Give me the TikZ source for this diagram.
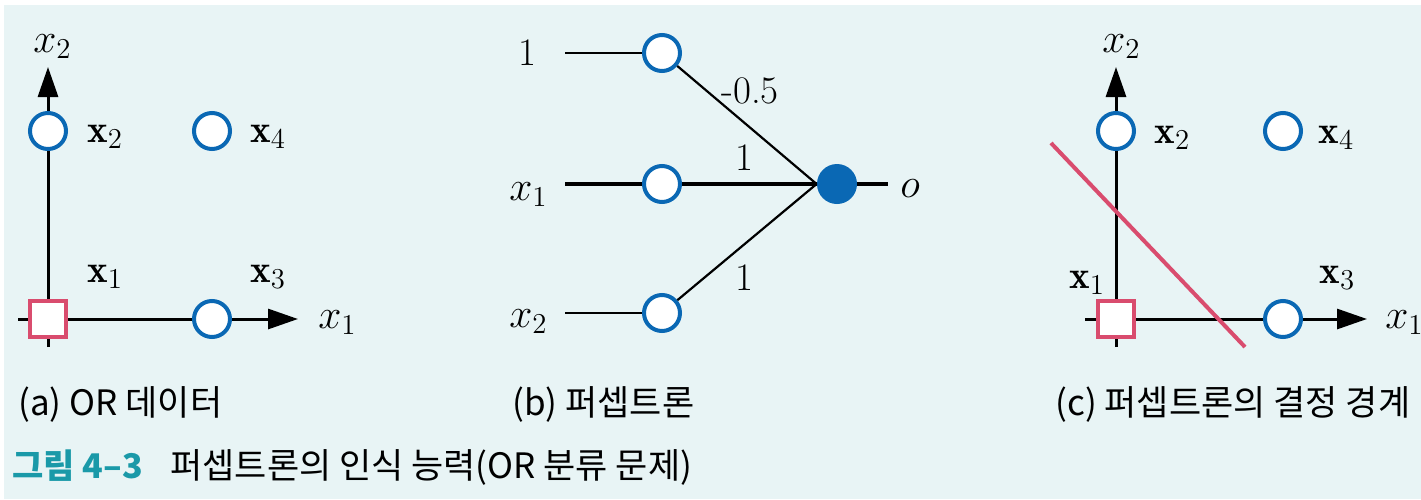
\documentclass[tikz,border=0pt]{standalone}
\usepackage{fontspec}
\newfontfamily\krfont{Noto Sans CJK KR}
\usetikzlibrary{arrows.meta}
\definecolor{bgcyan}{HTML}{E8F4F5}
\definecolor{ptblue}{HTML}{0A68B4}
\definecolor{ptpink}{HTML}{D94C6E}
\definecolor{ttlteal}{HTML}{1A99A8}
\tikzset{
  datapt/.style={circle,draw=ptblue,line width=2pt,fill=white,minimum size=18pt,inner sep=0pt},
  zeropt/.style={rectangle,draw=ptpink,line width=2pt,fill=white,minimum size=18pt,inner sep=0pt},
  outpt/.style={circle,fill=ptblue,minimum size=20pt,inner sep=0pt},
  axisline/.style={line width=1.5pt,-{Triangle[length=15pt,width=10pt]}},
  lbl/.style={font=\fontsize{19.5}{22}\selectfont,inner sep=0pt,anchor=base west},
  captxt/.style={font=\krfont\fontsize{17.5}{20}\selectfont,inner sep=0pt,anchor=base west},
}
\begin{document}
\begin{tikzpicture}[x=0.5pt,y=-0.5pt]
  \useasboundingbox (0,0) rectangle (1421,499);
  \fill[bgcyan] (4,5) rectangle (1421,499);

  % (a) OR data
  \coordinate (aYlo) at (48,347);
  \coordinate (aYhi) at (48,67);
  \coordinate (aXlo) at (18,319);
  \coordinate (aXhi) at (298,319);
  \draw[line width=1.5pt] (aYlo) -- (48,319);
  \draw[axisline] (48,319) -- (aYhi);
  \draw[axisline] (aXlo) -- (aXhi);
  \node[zeropt] (aP1) at (48,319) {};
  \node[datapt] (aP2) at (48,131) {};
  \node[datapt] (aP3) at (212,319) {};
  \node[datapt] (aP4) at (212,131) {};
  \node[lbl] (aL1) at (87,282) {$\mathbf{x}_1$};
  \node[lbl] (aL2) at (87,142) {$\mathbf{x}_2$};
  \node[lbl] (aL3) at (250,282) {$\mathbf{x}_3$};
  \node[lbl] (aL4) at (250,142) {$\mathbf{x}_4$};
  \node[lbl] (aAx2) at (33,52) {$x_2$};
  \node[lbl] (aAx1) at (318,328) {$x_1$};
  \node[captxt] (aCap) at (18,415) {(a) OR 데이터};

  % (b) perceptron
  \node[datapt] (bIn0) at (662,53) {};
  \node[datapt] (bIn1) at (662,184) {};
  \node[datapt] (bIn2) at (662,313) {};
  \node[outpt] (bOut) at (837,184) {};
  \coordinate (bS0) at (565,53);
  \coordinate (bS1) at (565,184);
  \coordinate (bS2) at (565,313);
  \coordinate (bEnd) at (888,184);
  \draw[line width=1.1pt] (bS0) -- (bIn0);
  \draw[line width=2.2pt] (bS1) -- (bIn1);
  \draw[line width=1.1pt] (bS2) -- (bIn2);
  \draw[line width=1.1pt] (bIn0) -- (bOut.west);
  \draw[line width=2.2pt] (bIn1) -- (bOut.west);
  \draw[line width=1.1pt] (bIn2) -- (bOut.west);
  \draw[line width=2.2pt] (bOut) -- (bEnd);
  \node[lbl] (bT0) at (518,65) {1};
  \node[lbl] (bT1) at (509,200) {$x_1$};
  \node[lbl] (bT2) at (509,327) {$x_2$};
  \node[lbl] (bTo) at (900,197) {$o$};
  \node[lbl] (bW0) at (721,103) {-0.5};
  \node[lbl] (bW1) at (735,170) {1};
  \node[lbl] (bW2) at (735,290) {1};
  \node[captxt] (bCap) at (512,415) {(b) 퍼셉트론};

  % (c) decision boundary
  \coordinate (cYlo) at (1116,347);
  \coordinate (cYhi) at (1116,67);
  \coordinate (cXlo) at (1085,319);
  \coordinate (cXhi) at (1367,319);
  \draw[line width=1.5pt] (cYlo) -- (1116,319);
  \draw[axisline] (1116,319) -- (cYhi);
  \draw[axisline] (cXlo) -- (cXhi);
  \node[zeropt] (cP1) at (1116,319) {};
  \node[datapt] (cP2) at (1116,131) {};
  \node[datapt] (cP3) at (1283,319) {};
  \node[datapt] (cP4) at (1283,131) {};
  \coordinate (cB1) at (1051,143);
  \coordinate (cB2) at (1245,347);
  \draw[ptpink,line width=2pt] (cB1) -- (cB2);
  \node[lbl] (cL1) at (1069,288) {$\mathbf{x}_1$};
  \node[lbl] (cL2) at (1154,143) {$\mathbf{x}_2$};
  \node[lbl] (cL3) at (1319,283) {$\mathbf{x}_3$};
  \node[lbl] (cL4) at (1318,143) {$\mathbf{x}_4$};
  \node[lbl] (cAx2) at (1102,52) {$x_2$};
  \node[lbl] (cAx1) at (1385,328) {$x_1$};
  \node[captxt] (cCap) at (1055,415) {(c) 퍼셉트론의 결정 경계};

  % figure title
  \node[captxt,font=\krfont\bfseries\fontsize{17}{20}\selectfont,text=ttlteal] (ttlNum) at (12,478) {그림 4–3};
  \node[captxt,font=\krfont\fontsize{17.5}{20}\selectfont] (ttlTxt) at (170,478) {퍼셉트론의 인식 능력(OR 분류 문제)};
\end{tikzpicture}
\end{document}
